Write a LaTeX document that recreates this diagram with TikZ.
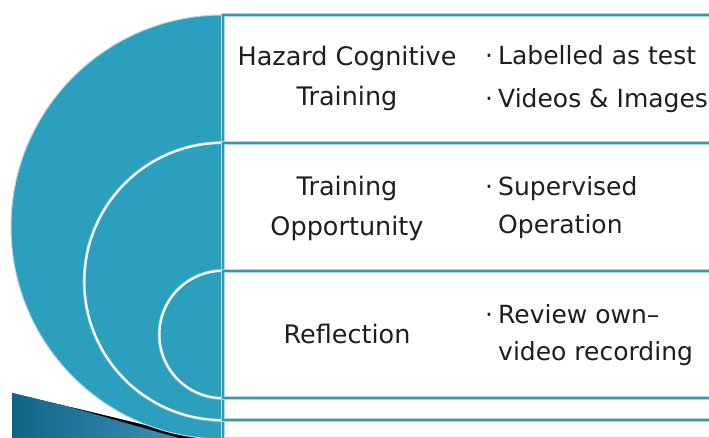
\documentclass[tikz,border=0pt]{standalone}
\usepackage{fontspec}
\setmainfont{DejaVu Sans}
\usetikzlibrary{positioning}
\definecolor{ringblue}{RGB}{44,158,190}
\definecolor{lineteal}{RGB}{62,150,165}
\definecolor{linelight}{RGB}{172,216,225}
\definecolor{textgray}{RGB}{30,30,30}
\definecolor{deckdark}{RGB}{18,100,135}
\definecolor{decklight}{RGB}{80,165,205}
\newcommand\bul{\makebox[13pt][l]{·}}
\newcommand\ind{\hspace*{13pt}}

\begin{document}
\begin{tikzpicture}[x=1pt, y=1pt,
        ring/.style   = {fill=ringblue, draw=white, line width=2pt, preaction={draw=linelight, line width=3.6pt}},
        rowbox/.style = {fill=white, draw=linelight, double=lineteal, double distance=2pt, line width=0.9pt},
        head/.style   = {align=center, inner sep=0pt, anchor=base, text=textgray, font=\fontsize{25.5}{40}\selectfont},
        item/.style   = {align=left, inner sep=0pt, anchor=base west, text=textgray}
    ]
    \useasboundingbox (0,0) rectangle (709,437);
    \clip (0,0) rectangle (709,437);

    \fill[left color=deckdark, right color=decklight] (12,44) -- (260,-16) -- (12,-16) -- cycle;
    \fill[black] (70,30) -- (223,-7) -- (223,-13.5) -- cycle;

    \draw[fill=ringblue, draw=linelight, line width=1pt] (223,422) arc[start angle=90, end angle=270, radius=212] -- cycle;
    \draw[ring] (223,294) arc[start angle=90, end angle=270, radius=138.5] -- cycle;
    \draw[ring] (223,166) arc[start angle=90, end angle=270, radius=63.5] -- cycle;

    \draw[rowbox] (223,422) rectangle (720,-2);
    \draw[rowbox] (223,294) rectangle (720,17);
    \draw[rowbox] (223,166) rectangle (720,39);

    \node[head] (hazard) at (347,331) {Hazard Cognitive\\Training};
    \node[item, font=\fontsize{25}{43}\selectfont] (hazardnote) at (485,329) {\bul Labelled as test\\\bul Videos \& Images};
    \node[head] (opport) at (347,202) {Training\\Opportunity};
    \node[item, font=\fontsize{25}{38}\selectfont] (opportnote) at (485,204) {\bul Supervised\\\ind Operation};
    \node[head] (reflect) at (347,94) {Reflection};
    \node[item, font=\fontsize{25}{37}\selectfont] (reflectnote) at (485,77) {\bul Review own–\\\ind video recording};
\end{tikzpicture}
\end{document}
